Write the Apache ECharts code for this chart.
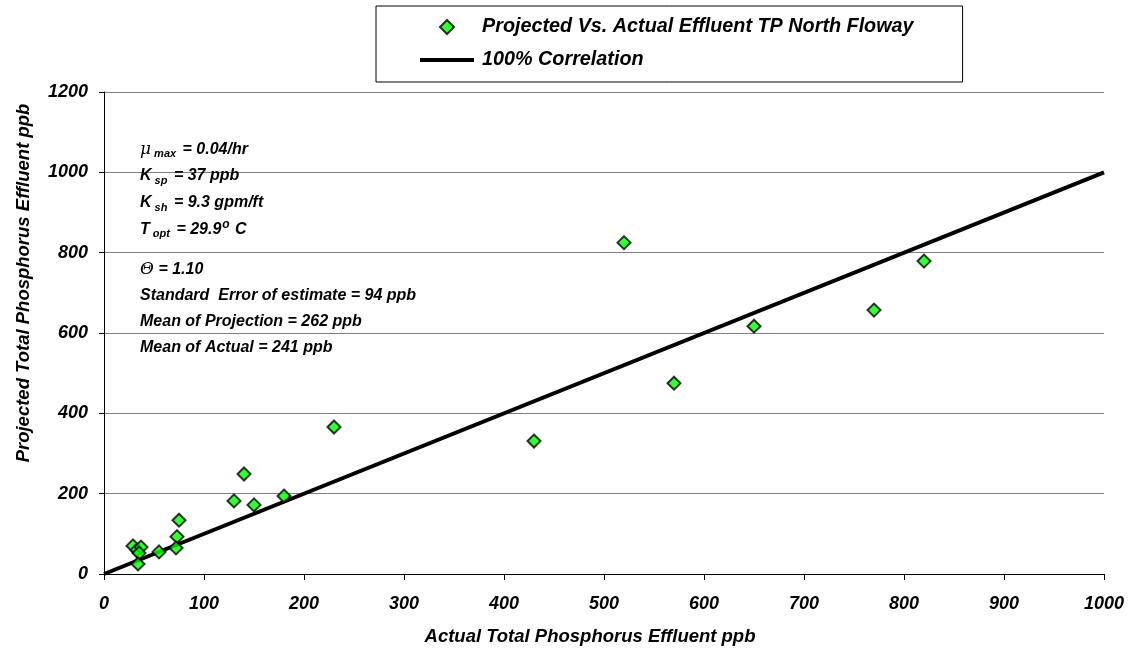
<!DOCTYPE html>
<html>
<head>
<meta charset="utf-8">
<script src="https://cdn.jsdelivr.net/npm/echarts@6/dist/echarts.min.js"></script>
<style>
html,body{margin:0;padding:0;background:#fff;}
#chart{width:1129px;height:654px;}
</style>
</head>
<body>
<div id="chart"></div>
<script>
// ---- data ----
const actualTP = [520, 820, 650, 770, 570, 430, 230, 140, 130, 150, 180, 75, 73, 72, 55, 29, 33, 37, 35, 34];
const projectedTP = [825, 779, 617, 657, 475, 331, 366, 249, 182, 172, 194, 134, 93, 65, 55, 70, 60, 67, 52, 25];
const correlationX = [0, 1000];
const correlationY = [0, 1000];
const seriesNames = ['Projected Vs. Actual Effluent TP North Floway', '100% Correlation'];
const xTitle = 'Actual Total Phosphorus Effluent ppb';
const yTitle = 'Projected Total Phosphorus Effluent ppb';
const annotations = [
  '{g|\u03BC}{sub| max}{b| = 0.04/hr}',
  '{b|K}{sub| sp}{b| = 37 ppb}',
  '{b|K}{sub| sh}{b| = 9.3 gpm/ft}',
  '{b|T}{sub| opt}{b| = 29.9}{sup|o}{b| C}',
  '{g|\u0398}{b| = 1.10}',
  '{b|Standard  Error of estimate = 94 ppb}',
  '{b|Mean of Projection = 262 ppb}',
  '{b|Mean of Actual = 241 ppb}'
];
const annotationY = [147, 174, 201, 225, 267, 294, 320, 346];

const FONT = '"Liberation Sans", Arial, sans-serif';
const scatterData = actualTP.map((x, i) => [x, projectedTP[i]]);
const lineData = correlationX.map((x, i) => [x, correlationY[i]]);

const rich = {
  b: {fontFamily: FONT, fontSize: 16, fontWeight: 'bold', fontStyle: 'italic', color: '#000', lineHeight: 20},
  g: {fontFamily: '"DejaVu Serif", serif', fontSize: 17, fontWeight: 'normal', fontStyle: 'italic', color: '#000', lineHeight: 20},
  sub: {fontFamily: FONT, fontSize: 11, fontWeight: 'bold', fontStyle: 'italic', color: '#000', padding: [9, 2, 0, 0]},
  sup: {fontFamily: FONT, fontSize: 12, fontWeight: 'bold', fontStyle: 'italic', color: '#000', padding: [0, 1, 9, 1]}
};

const chart = echarts.init(document.getElementById('chart'), null, {renderer: 'canvas'});
chart.setOption({
  backgroundColor: '#fff',
  animation: false,
  grid: {left: 104, right: 25, top: 92, bottom: 80},
  legend: {
    orient: 'vertical',
    left: 376,
    top: 6,
    padding: [11, 49, 12, 44],
    itemGap: 13,
    itemWidth: 54,
    itemHeight: 14,
    symbolKeepAspect: true,
    borderColor: '#000',
    borderWidth: 1,
    textStyle: {fontFamily: FONT, fontSize: 19.8, fontWeight: 'bold', fontStyle: 'italic', color: '#000', lineHeight: 18, padding: [0, 0, 0, 3]},
    data: [
      {name: seriesNames[0], icon: 'path://M7,0 L14,7 L7,14 L0,7 Z', itemStyle: {color: '#00ff00', borderColor: '#000', borderWidth: 2}},
      {name: seriesNames[1], icon: 'path://M0,0 H54 V4 H0 Z', itemStyle: {color: '#000', borderWidth: 0}}
    ]
  },
  xAxis: {
    type: 'value', min: 0, max: 1000, interval: 100,
    name: xTitle, nameLocation: 'middle', nameGap: 53,
    nameTextStyle: {fontFamily: FONT, fontSize: 18.5, fontWeight: 'bold', fontStyle: 'italic', color: '#000', padding: [0, 28, 0, 0]},
    axisLine: {show: true, lineStyle: {color: '#000', width: 1}},
    axisTick: {show: true, length: 6, lineStyle: {color: '#000'}},
    axisLabel: {fontFamily: FONT, fontSize: 18, fontWeight: 'bold', fontStyle: 'italic', color: '#000', margin: 21, formatter: v => String(v)},
    splitLine: {show: false}
  },
  yAxis: {
    type: 'value', min: 0, max: 1200, interval: 200,
    name: yTitle, nameLocation: 'middle', nameGap: 71,
    nameTextStyle: {fontFamily: FONT, fontSize: 18.5, fontWeight: 'bold', fontStyle: 'italic', color: '#000', padding: [0, 0, 0, 100]},
    axisLine: {show: true, onZero: false, lineStyle: {color: '#000', width: 1}},
    axisTick: {show: true, length: 5, lineStyle: {color: '#000'}},
    axisLabel: {fontFamily: FONT, fontSize: 18, fontWeight: 'bold', fontStyle: 'italic', color: '#000', margin: 16, formatter: v => String(v)},
    splitLine: {show: true, lineStyle: {color: '#808080', width: 1}}
  },
  series: [
    {
      name: seriesNames[0],
      type: 'scatter',
      data: scatterData,
      symbol: 'diamond',
      symbolSize: 13,
      z: 5,
      itemStyle: {color: '#00ff00', borderColor: '#000', borderWidth: 2}
    },
    {
      name: seriesNames[1],
      type: 'line',
      data: lineData,
      symbol: 'none',
      z: 3,
      lineStyle: {color: '#000', width: 4},
      itemStyle: {color: '#000'}
    }
  ],
  graphic: annotations.map((t, i) => ({
    type: 'text',
    left: 140,
    top: annotationY[i] - 6,
    z: 10,
    style: {text: t, rich: rich, fill: '#000'}
  }))
});
</script>
</body>
</html>
